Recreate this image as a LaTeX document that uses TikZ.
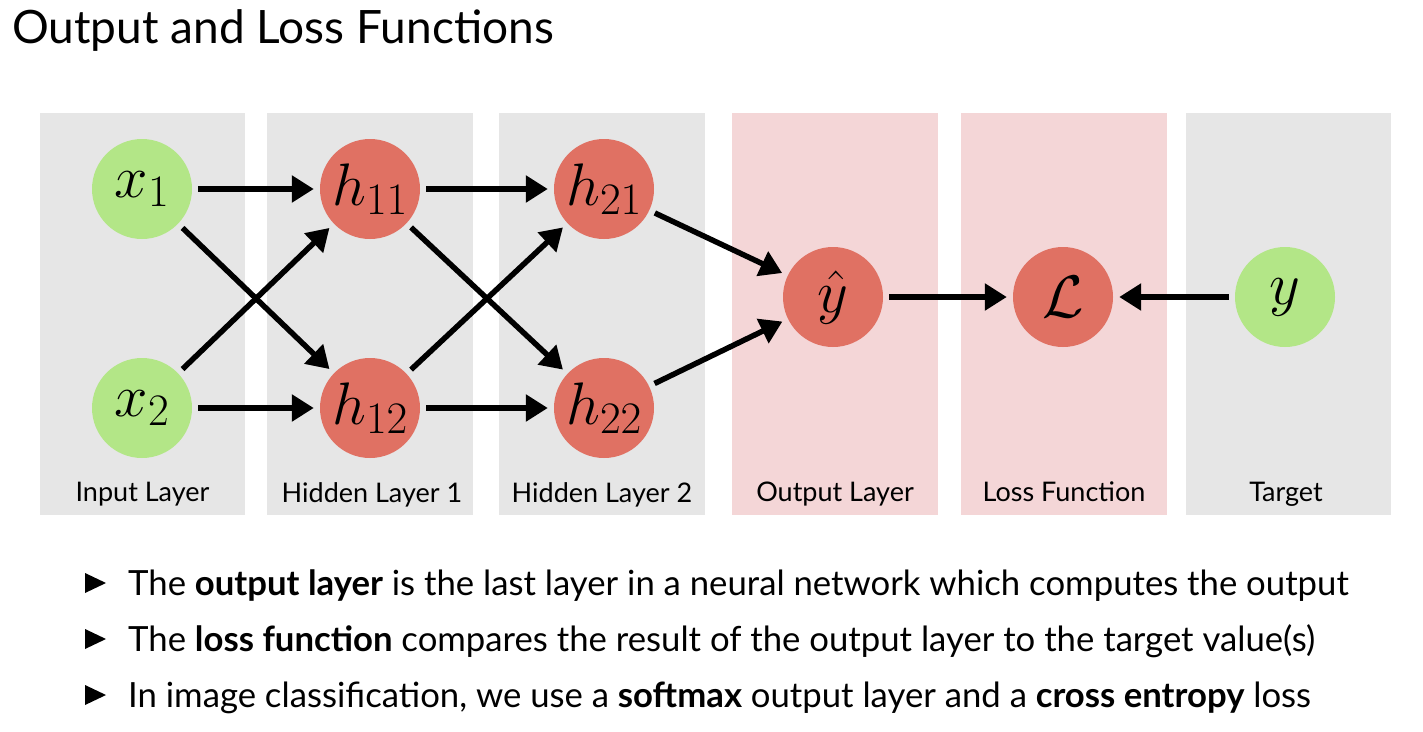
\RequirePackage{fix-cm}
\documentclass[tikz,border=0pt]{standalone}
\usepackage{fontspec}
\setmainfont{Lato}
\usepackage{amsmath}
\usepackage{amssymb}
\usetikzlibrary{arrows.meta,positioning}
% larger subscripts, as in the slide
\newcommand{\nsub}[1]{_{\text{\fontsize{45}{45}\selectfont$#1$}}}

\definecolor{panelgray}{HTML}{E6E6E6}
\definecolor{panelpink}{HTML}{F4D6D7}
\definecolor{nodered}{HTML}{E07163}
\definecolor{nodegreen}{HTML}{B3E687}

\begin{document}
\begin{tikzpicture}[
      x=1pt, y=-1pt,
      neuron/.style={circle, minimum size=100pt, inner sep=0pt,
                     font=\fontsize{60}{60}\selectfont},
      inp/.style={neuron, fill=nodegreen},
      hid/.style={neuron, fill=nodered},
      conn/.style={line width=5.5pt, -{Triangle[length=22pt,width=26pt]},
                   shorten >=6pt, shorten <=6pt},
      lbl/.style={anchor=base, inner sep=0pt, font=\fontsize{27}{30}\selectfont},
      bullet/.style={anchor=base west, inner sep=0pt, font=\fontsize{34.7}{40}\selectfont}]
    \useasboundingbox (0,0) rectangle (1423,731);

    % title
    \node[anchor=base west, inner sep=0pt, font=\fontsize{46}{50}\selectfont]
        (title) at (12,43) {Output and Loss Functions};

    % layer panels
    \fill[panelgray] (40,113) rectangle (245,515);
    \fill[panelgray] (267,113) rectangle (473,515);
    \fill[panelgray] (499,113) rectangle (705,515);
    \fill[panelpink] (732,113) rectangle (938,515);
    \fill[panelpink] (961,113) rectangle (1167,515);
    \fill[panelgray] (1186,113) rectangle (1391,515);

    \node[lbl] (linput)  at (142.5,501) {Input Layer};
    \node[lbl] (lhid1)   at (372,502)   {Hidden Layer 1};
    \node[lbl] (lhid2)   at (602,502)   {Hidden Layer 2};
    \node[lbl] (lout)    at (835,501)   {Output Layer};
    \node[lbl] (lloss)   at (1064,501)  {Loss Function};
    \node[lbl] (ltarget) at (1286,501) {Target};

    % neurons
    \node[inp] (x1)  at (142,189) {$x\nsub{1}$};
    \node[inp] (x2)  at (142,408) {$x\nsub{2}$};
    \node[hid] (h11) at (370,189) {$h\nsub{11}$};
    \node[hid] (h12) at (370,408) {$h\nsub{12}$};
    \node[hid] (h21) at (604,189) {$h\nsub{21}$};
    \node[hid] (h22) at (604,408) {$h\nsub{22}$};
    \node[hid] (yhat) at (833,297) {$\hat{y}$};
    \node[hid] (loss) at (1063,297) {$\mathcal{L}$};
    \node[inp] (y)   at (1285,297) {$y$};

    % connections
    \draw[conn] (x1) -- (h11);
    \draw[conn] (x1) -- (h12);
    \draw[conn] (x2) -- (h11);
    \draw[conn] (x2) -- (h12);
    \draw[conn] (h11) -- (h21);
    \draw[conn] (h11) -- (h22);
    \draw[conn] (h12) -- (h21);
    \draw[conn] (h12) -- (h22);
    \draw[conn] (h21) -- (yhat);
    \draw[conn] (h22) -- (yhat);
    \draw[conn] (yhat) -- (loss);
    \draw[conn] (y) -- (loss);

    % bullet list
    \foreach \yy in {595,651,707}
      \fill (85,\yy-22) -- (106,\yy-12) -- (85,\yy-2) -- cycle;
    \node[bullet] (b1) at (128,595)
        {The \textbf{output layer} is the last layer in a neural network which computes the output};
    \node[bullet] (b2) at (128,651)
        {The \textbf{loss function} compares the result of the output layer to the target value(s)};
    \node[bullet] (b3) at (128,707)
        {In image classification, we use a \textbf{softmax} output layer and a \textbf{cross entropy} loss};
  \end{tikzpicture}
\end{document}
